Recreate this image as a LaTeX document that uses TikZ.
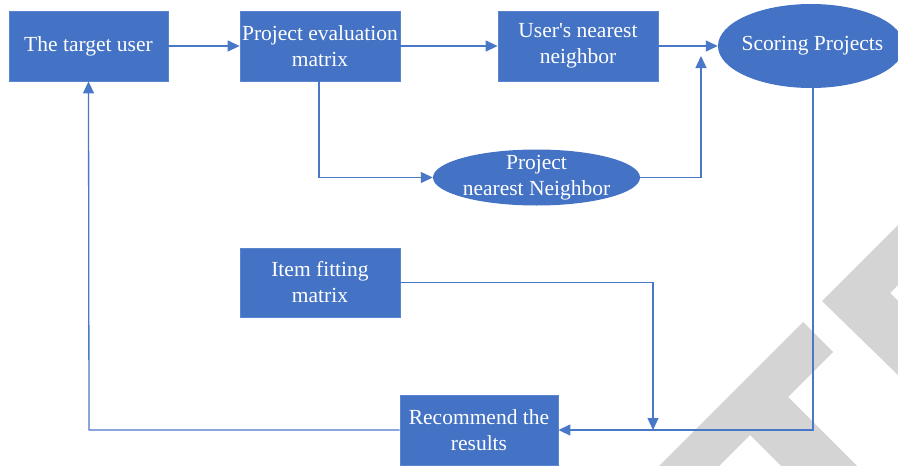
\documentclass[tikz,border=0pt]{standalone}
\usepackage{fontspec}
\setmainfont{Liberation Serif}
\usetikzlibrary{arrows.meta,shapes.geometric}
\definecolor{boxblue}{HTML}{4472C4}
\definecolor{edgeblue}{HTML}{5A85CF}
\definecolor{linkblue}{HTML}{4A78C8}
\definecolor{wmgray}{HTML}{D4D4D4}
\tikzset{
  blockbox/.style={rectangle, fill=boxblue, draw=edgeblue, line width=0.8pt, text=white,
    align=center, inner sep=0pt, font=\fontsize{21.5}{26}\selectfont},
  ovalbox/.style={ellipse, fill=boxblue, draw=none, text=white,
    align=center, inner xsep=-12pt, inner ysep=-10pt, font=\fontsize{21.5}{26}\selectfont},
  link/.style={draw=linkblue, line width=1.3pt, -{Triangle[length=12pt,width=11pt]}},
  plainlink/.style={draw=linkblue, line width=1.3pt}
}
\begin{document}
\begin{tikzpicture}[x=1pt,y=-1pt]
\useasboundingbox (0,0) rectangle (898,466);
% watermark
\fill[wmgray] (659,466) -- (803,322) -- (833,352) -- (788,397) -- (857,466) -- (781,466) -- (750,435) -- (719,466) -- cycle;
\fill[wmgray] (822,301) -- (898,225) -- (898,285) -- (890,293) -- (898,301) -- (898,375) -- cycle;
% nodes
\node[blockbox, minimum width=159pt, minimum height=70pt] (tu) at (88.5,46) {The target user};
\node[blockbox, minimum width=160pt, minimum height=70pt] (pem) at (320,46) {Project evaluation\\matrix};
\node[blockbox, minimum width=160pt, minimum height=70pt] (unn) at (578,46) {User\textquotesingle s nearest\\neighbor};
\node[ovalbox, minimum width=186pt, minimum height=84pt] (sp) at (811,46) {\hspace*{3pt}Scoring Projects};
\node[ovalbox, minimum width=207pt, minimum height=56pt] (pnn) at (536.5,177.5) {Project\\nearest Neighbor};
\node[blockbox, minimum width=160pt, minimum height=69pt] (ifm) at (320,282.5) {Item fitting\\matrix};
\node[blockbox, minimum width=158pt, minimum height=70pt] (rr) at (479,430) {Recommend the\\results};
\coordinate (j1) at (701,56);
\coordinate (j2) at (653,430);
\coordinate (c1) at (813,430);
\coordinate (c2) at (89,430);
% connectors
\draw[link] (tu.east) -- (pem.west);
\draw[link] (pem.east) -- (unn.west);
\draw[link] (unn.east) -- (sp.west);
\draw[link] ([xshift=-1pt]pem.south) |- (pnn.west);
\draw[link] (pnn.east) -| (j1);
\draw[link] ([xshift=2pt]sp.south) -- (c1) -- (rr.east);
\draw[link] (ifm.east) -| (j2);
\draw[link] (rr.west) -- (c2) -- (tu.south);
\end{tikzpicture}
\end{document}
